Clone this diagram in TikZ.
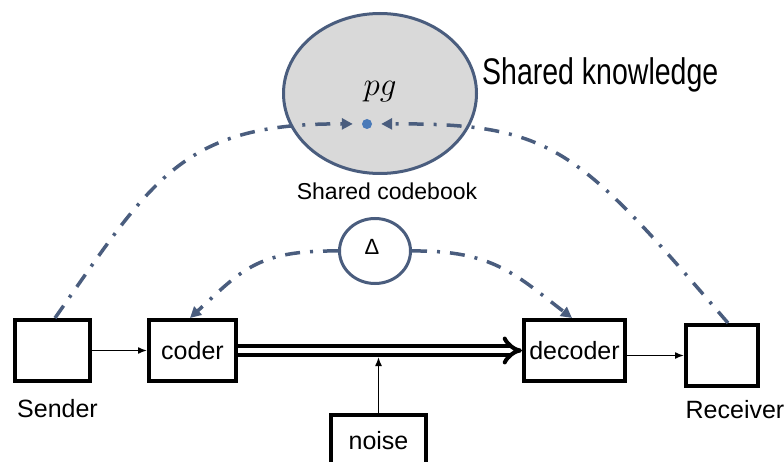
\RequirePackage{fix-cm}
\documentclass[tikz,border=0pt]{standalone}
\usepackage{fontspec}
\setmainfont{Liberation Sans}
\usetikzlibrary{arrows.meta,shapes.geometric,calc}

\definecolor{linkblue}{HTML}{4A5D7E}
\definecolor{dotblue}{HTML}{4A7AB8}
\definecolor{knowfill}{HTML}{D9D9D9}

\tikzset{
  block/.style={draw=black, line width=4pt, fill=white, inner sep=0pt,
    text height=18pt, text depth=0pt, font=\fontsize{25}{30}\selectfont},
  caption/.style={inner sep=0pt, anchor=base, font=\fontsize{25}{30}\selectfont},
  dashdot/.style={draw=linkblue, line width=3.5pt,
    dash pattern=on 15pt off 10pt on 3pt off 10pt,
    -{Triangle[length=11pt,width=11pt]}},
  thinarrow/.style={line width=1.5pt, -{Latex[length=9pt,width=7pt]}},
  channel/.style={line width=4pt, double=white, double distance=5pt, -{Implies[scale=1.3]}},
}

\begin{document}
\begin{tikzpicture}[x=1pt,y=-1pt]
\useasboundingbox (0,0) rectangle (784,462);

% shared knowledge
\node[ellipse, draw=linkblue, line width=3pt, fill=knowfill,
  minimum width=193pt, minimum height=160pt, inner sep=0pt] (know) at (380,93.5) {};
\node[inner sep=0pt, anchor=base] (pg) at (380,96) {\fontsize{33}{40}\selectfont$pg$};
\node[inner sep=0pt, anchor=base west, yscale=1.3, font=\fontsize{28.5}{34}\selectfont] (knowlabel) at (482,85) {Shared knowledge};
\node[circle, fill=dotblue, minimum size=10pt, inner sep=0pt] (dot) at (367,124) {};

% shared codebook
\node[inner sep=0pt, anchor=base, font=\fontsize{23}{28}\selectfont] (cblabel) at (387,200) {Shared codebook};
\node[ellipse, draw=linkblue, line width=3pt, fill=white,
  minimum width=71pt, minimum height=65pt, inner sep=0pt] (delta) at (375,251) {};
\node[inner sep=0pt, anchor=base, font=\fontsize{22}{26}\selectfont] (deltasym) at (372,255) {Δ};

% blocks
\node[block, minimum width=75pt, minimum height=61pt] (sender) at (52.5,350.5) {};
\node[block, minimum width=87pt, minimum height=61pt] (coder) at (192.5,350.5) {coder};
\node[block, minimum width=101pt, minimum height=61pt] (decoder) at (574.5,350.5) {decoder};
\node[block, minimum width=72pt, minimum height=61pt] (receiver) at (722,355.5) {};
\node[block, minimum width=95pt, minimum height=50pt] (noise) at (378.5,440) {noise};

\node[caption] (senderlabel) at (57.5,417) {Sender};
\node[caption] (receiverlabel) at (735,418) {Receiver};

% signal path
\draw[thinarrow] (sender.east) -- (coder.west);
\draw[channel] (coder.east) -- (decoder.west);
\coordinate (tap) at ($(noise.north)+(0,-56)$);
\draw[thinarrow] (noise.north) -- (tap);
\draw[thinarrow] (decoder.east |- receiver.west) -- (receiver.west);

% links to the shared knowledge
\coordinate (sendtop) at ($(sender.north)+(2.5,0)$);
\coordinate (recvtop) at ($(receiver.north)+(6,0)$);
\draw[dashdot, shorten >=9pt] (sendtop) .. controls (152.6,179) and (182,123) .. (dot.west);
\draw[dashdot, shorten >=9pt] (recvtop) .. controls (577,148) and (554,123) .. (dot.east);

% links from the shared codebook
\coordinate (codertop) at (190,318);
\coordinate (decodertop) at (572,318);
\draw[dashdot] (delta.west) .. controls (257,250) and (241.5,270.6) .. (codertop);
\draw[dashdot] (delta.east) .. controls (493,250) and (516.5,275.4) .. (decodertop);
\end{tikzpicture}
\end{document}
